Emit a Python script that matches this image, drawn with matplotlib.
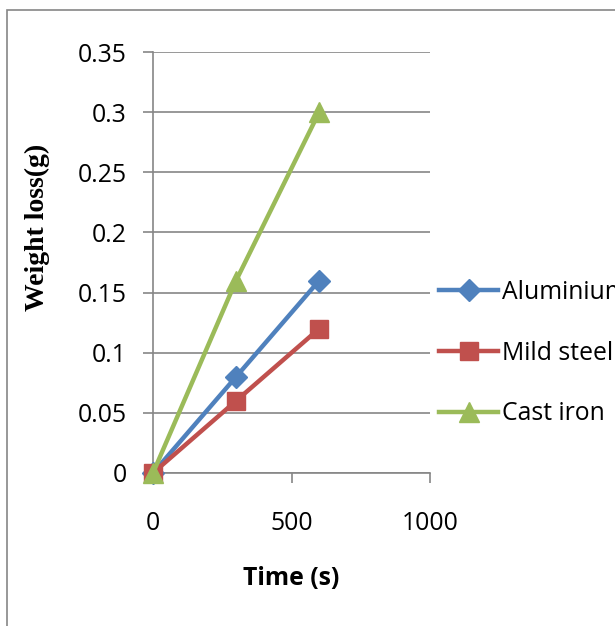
import matplotlib
matplotlib.use("Agg")
import matplotlib.pyplot as plt
from matplotlib.patches import Rectangle

# weight loss vs exposure time
time_s = [0, 300, 600]
aluminium = [0, 0.08, 0.16]
mild_steel = [0, 0.06, 0.12]
cast_iron = [0, 0.16, 0.30]
series_names = ["Aluminium", "Mild steel", "Cast iron"]

x_ticks = [0, 500, 1000]
y_ticks = [0, 0.05, 0.1, 0.15, 0.2, 0.25, 0.3, 0.35]
y_tick_labels = ["0", "0.05", "0.1", "0.15", "0.2", "0.25", "0.3", "0.35"]

plt.rcParams["font.family"] = ["Open Sans", "DejaVu Sans"]
GRID = "#868686"
FS = 17.8

fig = plt.figure(figsize=(6.15, 6.26), dpi=100)
# outer chart frame
fig.patches.append(Rectangle((7 / 615, -0.1), 1.2, 1.1 - 10 / 626,
                             transform=fig.transFigure, fill=False,
                             edgecolor=GRID, linewidth=1.2))

ax = fig.add_axes([153 / 615, 1 - 473 / 626, (430 - 153) / 615, (473 - 52) / 626])

ax.plot(time_s, aluminium, color="#4F81BD", lw=3.2, marker="D", ms=11,
        label=series_names[0], zorder=3, clip_on=False)
ax.plot(time_s, mild_steel, color="#C0504D", lw=3.2, marker="s", ms=13,
        label=series_names[1], zorder=3, clip_on=False)
ax.plot(time_s, cast_iron, color="#9BBB59", lw=3.2, marker="^", ms=15,
        label=series_names[2], zorder=4, clip_on=False)

ax.set_xlim(0, 1000)
ax.set_ylim(0, 0.35)
ax.set_xticks(x_ticks)
ax.set_yticks(y_ticks)
ax.set_yticklabels(y_tick_labels)
ax.yaxis.grid(True, color=GRID, lw=1.2)
ax.set_axisbelow(True)

for side in ["top", "right"]:
    ax.spines[side].set_visible(False)
for side in ["left", "bottom"]:
    ax.spines[side].set_color(GRID)
    ax.spines[side].set_linewidth(1.2)
ax.tick_params(axis="both", colors=GRID, length=7, width=1.2, labelsize=FS,
               labelcolor="black")
ax.tick_params(axis="y", pad=12)
ax.tick_params(axis="x", pad=20)

ax.set_xlabel("Time (s)", fontsize=FS, fontweight="bold", labelpad=22)
fig.text(37 / 615, 1 - 227 / 626, "Weight loss(g)", rotation=90,
         ha="center", va="center", fontsize=20, fontweight="bold",
         family="Liberation Serif")

ax.legend(loc="center left", bbox_to_anchor=(429 / 615, 1 - 353 / 626),
          bbox_transform=fig.transFigure, frameon=False, fontsize=FS,
          handlelength=2.4, handletextpad=0.15, labelspacing=1.45,
          borderaxespad=0)

fig.savefig("out.png", dpi=100)
